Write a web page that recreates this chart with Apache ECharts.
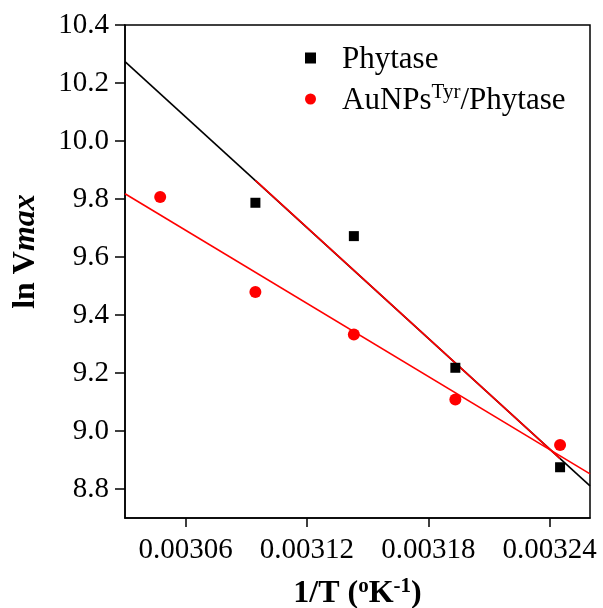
<!DOCTYPE html>
<html>
<head>
<meta charset="utf-8">
<script src="https://cdn.jsdelivr.net/npm/echarts@6/dist/echarts.min.js"></script>
<style>
html,body{margin:0;padding:0;background:#fff;}
#chart{width:603px;height:608px;}
</style>
</head>
<body>
<div id="chart"></div>
<script>
// ---- data ----
const xTicks = [0.00306, 0.00312, 0.00318, 0.00324];
const yTicks = [8.8, 9.0, 9.2, 9.4, 9.6, 9.8, 10.0, 10.2, 10.4];

const phytaseX = [0.0030945, 0.0031432, 0.0031934, 0.0032452];
const phytaseY = [9.787, 9.672, 9.218, 8.875];

const aunpsX = [0.0030474, 0.0030945, 0.0031432, 0.0031934, 0.0032452];
const aunpsY = [9.807, 9.479, 9.333, 9.109, 8.952];

const phytaseFitX = [0.00303, 0.00326];
const phytaseFitY = [10.274, 8.811];
const phytaseFitRedX = [0.0030945, 0.0032452];
const phytaseFitRedY = [9.864, 8.905];
const aunpsFitX = [0.00303, 0.00326];
const aunpsFitY = [9.818, 8.852];

const pairs = (xs, ys) => xs.map((x, i) => [x, ys[i]]);
const FONT = '"Liberation Serif", "Times New Roman", serif';

const chart = echarts.init(document.getElementById('chart'), null, {renderer: 'canvas'});
chart.setOption({
  animation: false,
  backgroundColor: '#fff',
  textStyle: {fontFamily: FONT, color: '#000'},
  grid: {left: 125, right: 13, top: 25, bottom: 90, containLabel: false, outerBoundsMode: 'none',
         show: true, borderColor: '#000', borderWidth: 1.5, backgroundColor: 'transparent'},
  legend: {
    orient: 'vertical',
    left: 305,
    top: 44,
    padding: 0,
    itemWidth: 11,
    itemHeight: 11,
    itemGap: 7,
    data: [
      {name: 'Phytase', icon: 'rect'},
      {name: 'AuNPs/Phytase', icon: 'circle'}
    ],
    formatter: function (name) {
      if (name === 'Phytase') return '{gap|}{n|Phytase}';
      return '{gap|}{n|AuNPs}{s|Tyr}{n|/Phytase}';
    },
    textStyle: {
      fontFamily: FONT,
      color: '#000',
      rich: {
        gap: {width: 21},
        n: {fontFamily: FONT, fontSize: 31, color: '#000', lineHeight: 34, verticalAlign: 'bottom'},
        s: {fontFamily: FONT, fontSize: 21, color: '#000', lineHeight: 34, verticalAlign: 'top'}
      }
    }
  },
  xAxis: {
    type: 'value',
    min: 0.00303,
    max: 0.00326,
    splitLine: {show: false},
    axisLine: {show: true, lineStyle: {color: '#000', width: 1.5}},
    axisTick: {show: true, customValues: xTicks, length: 9, lineStyle: {color: '#000', width: 1.5}},
    axisLabel: {customValues: xTicks, formatter: v => v.toFixed(5), fontFamily: FONT, fontSize: 29, color: '#000', margin: 18},
    name: '{b|1/T (}{s|o}{b|K}{s|-1}{b|)}',
    nameLocation: 'middle',
    nameGap: 58,
    nameTextStyle: {
      rich: {
        b: {fontFamily: FONT, fontSize: 32, fontWeight: 'bold', color: '#000', lineHeight: 34, verticalAlign: 'bottom'},
        s: {fontFamily: FONT, fontSize: 21, fontWeight: 'bold', color: '#000', lineHeight: 34, verticalAlign: 'top'}
      }
    }
  },
  yAxis: {
    type: 'value',
    min: 8.7,
    max: 10.4,
    splitLine: {show: false},
    axisLine: {show: true, lineStyle: {color: '#000', width: 1.5}},
    axisTick: {show: true, customValues: yTicks, length: 10, lineStyle: {color: '#000', width: 1.5}},
    axisLabel: {customValues: yTicks, formatter: v => v.toFixed(1), fontFamily: FONT, fontSize: 29, color: '#000', margin: 16},
    name: '{b|ln V}{i|max}',
    nameLocation: 'middle',
    nameRotate: 90,
    nameGap: 83,
    nameTextStyle: {
      padding: [0, 0, 0, 40],
      rich: {
        b: {fontFamily: FONT, fontSize: 32, fontWeight: 'bold', color: '#000'},
        i: {fontFamily: FONT, fontSize: 32, fontWeight: 'bold', fontStyle: 'italic', color: '#000'}
      }
    }
  },
  series: [
    {
      name: 'PhytaseFit', type: 'line', data: pairs(phytaseFitX, phytaseFitY),
      symbol: 'none', lineStyle: {color: '#000', width: 1.6}, z: 2, silent: true
    },
    {
      name: 'PhytaseFitRed', type: 'line', data: pairs(phytaseFitRedX, phytaseFitRedY),
      symbol: 'none', lineStyle: {color: '#ff0000', width: 1.6}, z: 3, silent: true
    },
    {
      name: 'AuNPsFit', type: 'line', data: pairs(aunpsFitX, aunpsFitY),
      symbol: 'none', lineStyle: {color: '#ff0000', width: 1.6}, z: 3, silent: true
    },
    {
      name: 'Phytase', type: 'scatter', data: pairs(phytaseX, phytaseY),
      symbol: 'rect', symbolSize: 10, itemStyle: {color: '#000', opacity: 1}, z: 5
    },
    {
      name: 'AuNPs/Phytase', type: 'scatter', data: pairs(aunpsX, aunpsY),
      symbol: 'circle', symbolSize: 12, itemStyle: {color: '#ff0000', opacity: 1}, z: 5
    }
  ]
});
</script>
</body>
</html>
